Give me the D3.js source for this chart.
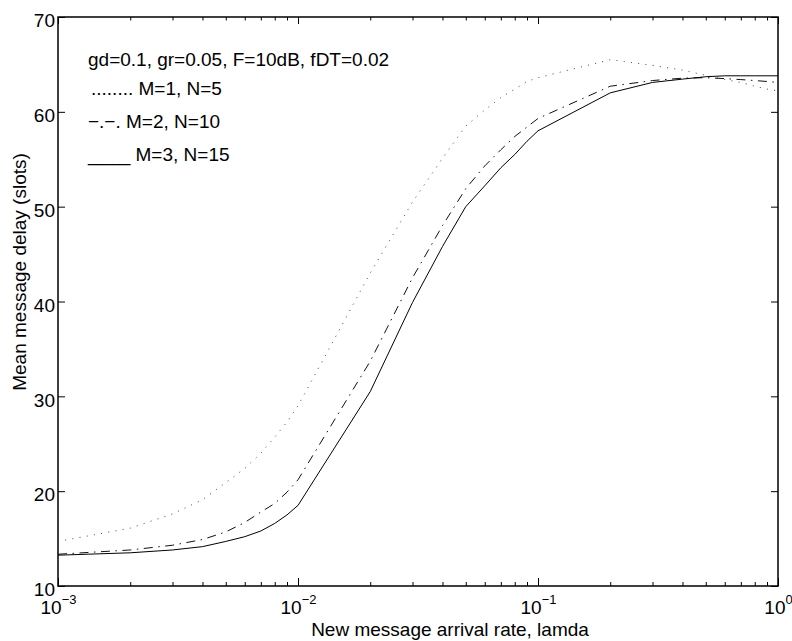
<!DOCTYPE html>
<html>
<head>
<meta charset="utf-8">
<script src="https://cdn.jsdelivr.net/npm/d3@7"></script>
<style>
  body { margin: 0; background: #fff; }
  svg { display: block; font-family: "Liberation Sans", Arial, Helvetica, sans-serif; }
</style>
</head>
<body>
<script>
// Arrival rates (x) shared by all three curves
const lambda = [0.001, 0.002, 0.003, 0.004, 0.005, 0.006, 0.007, 0.008, 0.009, 0.01,
                0.02, 0.03, 0.04, 0.05, 0.06, 0.07, 0.08, 0.09, 0.1,
                0.2, 0.3, 0.4, 0.5, 0.6, 0.7, 0.8, 0.9, 1];

// Mean message delay (slots)
const delayM1N5 = [14.7, 16.1, 17.6, 19.1, 20.9, 22.4, 24.0, 25.7, 27.3, 29.0,
                   43.0, 50.5, 55.1, 58.5, 60.2, 61.5, 62.4, 63.2, 63.6,
                   65.5, 64.9, 64.4, 63.85, 63.4, 63.1, 62.7, 62.4, 62.2];
const delayM2N10 = [13.35, 13.8, 14.3, 14.9, 15.7, 16.7, 17.8, 18.7, 19.9, 21.2,
                    33.7, 42.5, 48.0, 51.9, 54.3, 56.0, 57.4, 58.4, 59.3,
                    62.7, 63.3, 63.55, 63.6, 63.5, 63.4, 63.3, 63.2, 63.1];
const delayM3N15 = [13.25, 13.5, 13.8, 14.15, 14.7, 15.2, 15.8, 16.6, 17.5, 18.5,
                    30.5, 39.9, 45.8, 50.0, 52.2, 54.1, 55.5, 56.9, 58.0,
                    62.0, 63.1, 63.45, 63.7, 63.8, 63.8, 63.8, 63.8, 63.8];

// Axis ticks
const xMajor = [0.001, 0.01, 0.1, 1];
const xExponents = ["\u22123", "\u22122", "\u22121", "0"];
const yTicks = [10, 20, 30, 40, 50, 60, 70];

// Legend / annotation text
const legendLines = [
  "gd=0.1, gr=0.05, F=10dB, fDT=0.02",
  "........ M=1, N=5",
  "\u2212.\u2212. M=2, N=10",
  "____ M=3, N=15"
];

const width = 792, height = 641;
const padLeft = 58, padRight = 778, padTop = 17, padBottom = 586;
const fontSize = 19;

const svg = d3.select("body").append("svg")
  .attr("width", width)
  .attr("height", height)
  .attr("viewBox", [0, 0, width, height]);

const xScale = d3.scaleLog().domain([0.001, 1]).range([padLeft, padRight]);
const yScale = d3.scaleLinear().domain([10, 70]).range([padBottom, padTop]);

// Minor ticks: 2..9 in each decade
const xMinor = [];
xMajor.slice(0, -1).forEach(d => {
  for (let k = 2; k <= 9; k++) xMinor.push(d * k);
});

// Bottom axis (major with labels, minor without)
const xAxisRef = svg.append("g")
  .attr("transform", `translate(0, ${padBottom})`)
  .call(d3.axisBottom(xScale).tickValues(xMajor).tickSize(-8).tickFormat(""));
svg.append("g")
  .attr("transform", `translate(0, ${padBottom})`)
  .call(d3.axisBottom(xScale).tickValues(xMinor).tickSize(-4).tickFormat(""));

// Labels of the form 10^n
xAxisRef.selectAll(".tick text")
  .attr("y", 27.5)
  .attr("dy", null)
  .attr("font-size", fontSize)
  .attr("fill", "#000")
  .each(function(d, i) {
    const t = d3.select(this);
    t.append("tspan").text("10");
    t.append("tspan").attr("dy", -10).attr("font-size", 13).text(xExponents[i]);
  });

// Top axis (mirrored ticks)
svg.append("g")
  .attr("transform", `translate(0, ${padTop})`)
  .call(d3.axisTop(xScale).tickValues(xMajor).tickSize(-7).tickFormat(""));
svg.append("g")
  .attr("transform", `translate(0, ${padTop})`)
  .call(d3.axisTop(xScale).tickValues(xMinor).tickSize(-3.5).tickFormat(""));

// Left axis
svg.append("g")
  .attr("transform", `translate(${padLeft}, 0)`)
  .call(d3.axisLeft(yScale).tickValues(yTicks).tickSize(-7).tickPadding(3))
  .call(g => g.selectAll(".tick text")
    .attr("dy", "0.51em")
    .attr("font-size", fontSize)
    .attr("fill", "#000"));

// Right axis
svg.append("g")
  .attr("transform", `translate(${padRight}, 0)`)
  .call(d3.axisRight(yScale).tickValues(yTicks).tickSize(-7).tickFormat(""));

// Let the svg font apply to axis groups too
svg.selectAll("g").attr("font-family", null).attr("font-size", null);
svg.selectAll(".domain").remove();
svg.selectAll(".tick line").attr("stroke", "#000").attr("stroke-width", 1);

// Axes box
svg.append("rect")
  .attr("x", padLeft).attr("y", padTop)
  .attr("width", padRight - padLeft).attr("height", padBottom - padTop)
  .attr("fill", "none").attr("stroke", "#000").attr("stroke-width", 1.5);

// Curves
const line = d3.line()
  .x((d, i) => xScale(lambda[i]))
  .y(d => yScale(d));

const series = [
  { values: delayM1N5, dash: "1,6.3", color: "#444" },
  { values: delayM2N10, dash: "9,5.5,1.5,5.5", color: "#111" },
  { values: delayM3N15, dash: null, color: "#000" }
];

svg.append("g")
  .selectAll("path")
  .data(series)
  .enter()
  .append("path")
  .attr("fill", "none")
  .attr("stroke", s => s.color)
  .attr("stroke-width", 1)
  .attr("stroke-dasharray", s => s.dash)
  .attr("d", s => line(s.values));

// Annotation text block
const legendY = [66, 95, 128, 161];
const legendX = [88, 91, 88, 88];
svg.append("g")
  .selectAll("text")
  .data(legendLines)
  .enter()
  .append("text")
  .attr("x", (d, i) => legendX[i])
  .attr("y", (d, i) => legendY[i])
  .attr("font-size", fontSize)
  .attr("fill", "#000")
  .text(d => d);

// Axis titles
svg.append("text")
  .attr("x", 450)
  .attr("y", 636)
  .attr("text-anchor", "middle")
  .attr("font-size", fontSize)
  .text("New message arrival rate, lamda");

svg.append("text")
  .attr("transform", "translate(26, 272) rotate(-90)")
  .attr("text-anchor", "middle")
  .attr("font-size", fontSize)
  .text("Mean message delay (slots)");
</script>
</body>
</html>
